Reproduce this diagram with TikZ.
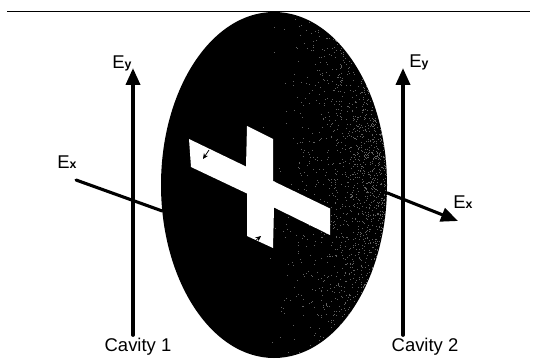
\documentclass[tikz,border=0pt]{standalone}
\usepackage{fontspec}
\setmainfont{Liberation Sans}
\usepackage{xcolor}
\usetikzlibrary{arrows.meta, positioning, shapes.geometric}
\newcommand{\fieldsub}[1]{{\fontsize{7}{8}\selectfont\bfseries #1}}
\tikzset{
  fieldline/.style={line width=0.75mm, draw=black, line cap=round},
  fieldarrow/.style={fieldline, -{Triangle[length=3.4mm, width=2.8mm]}},
  tinyarrow/.style={line width=0.4pt, -{Stealth[length=1.1mm, width=1mm]}},
  fieldlabel/.style={font=\fontsize{10.5}{12}\selectfont, text=black, inner sep=0pt},
}
\begin{document}
\begin{tikzpicture}
      \useasboundingbox (0,0) rectangle (10.72,7.16);
      % rule along the top
      \coordinate (ruleleft) at (0.14,6.93);
      \coordinate (ruleright) at (10.6,6.93);
      \draw[line width=1.1pt] (ruleleft) -- (ruleright);

      % the two cavities
      \coordinate (cavonefoot) at (2.66,0.46);
      \coordinate (cavonetip) at (2.66,5.8);
      \coordinate (cavtwofoot) at (8.06,0.46);
      \coordinate (cavtwotip) at (8.06,5.8);
      \draw[fieldarrow] (cavonefoot) -- (cavonetip);
      \draw[fieldarrow] (cavtwofoot) -- (cavtwotip);

      % sample disc, speckled towards its right edge
      \node[ellipse, fill=black, draw=none, inner sep=0pt,
            minimum width=4.52cm, minimum height=6.92cm] (disc) at (5.48,3.46) {};
      \begin{scope}
        \clip (5.48,3.46) ellipse (2.26 and 3.46);
        \pgfmathsetseed{4217}
        \foreach \i in {1,...,2200} {
          \pgfmathsetmacro{\dotx}{5.0+2.8*rnd^0.3}
          \pgfmathsetmacro{\doty}{0.1+6.8*rnd}
          \fill[black!62] (\dotx,\doty) rectangle +(0.016,0.016);
        }
      \end{scope}

      % cross-shaped aperture
      \fill[white] (3.78,4.38) -- (4.92,3.83) -- (4.94,4.64) -- (5.46,4.38)
            -- (5.46,3.54) -- (6.60,2.99) -- (6.60,2.46) -- (5.48,3.01)
            -- (5.46,2.20) -- (4.94,2.44) -- (4.94,3.29) -- (3.82,3.82) -- cycle;
      \coordinate (tickatop) at (4.18,4.16);
      \coordinate (tickabot) at (4.06,3.98);
      \coordinate (tickbtop) at (5.22,2.44);
      \coordinate (tickbbot) at (5.10,2.34);
      \draw[tinyarrow] (tickatop) -- (tickabot);
      \draw[tinyarrow] (tickbbot) -- (tickbtop);

      % field through the disc
      \coordinate (exleft) at (1.52,3.56);
      \coordinate (exright) at (9.16,2.74);
      \draw[fieldline, line width=0.62mm] (exleft) -- (disc.193);
      \draw[fieldarrow, line width=0.62mm] (disc.-4) -- (exright);

      % labels
      \node[fieldlabel] (eyone) at (2.44,5.9) {E\fieldsub{y}};
      \node[fieldlabel] (eytwo) at (8.38,5.92) {E\fieldsub{y}};
      \node[fieldlabel] (exone) at (1.34,3.92) {E\fieldsub{x}};
      \node[fieldlabel] (extwo) at (9.26,3.12) {E\fieldsub{x}};
      \node[fieldlabel] (cavone) at (2.76,0.22) {Cavity 1};
      \node[fieldlabel] (cavtwo) at (8.50,0.22) {Cavity 2};
    \end{tikzpicture}
\end{document}
